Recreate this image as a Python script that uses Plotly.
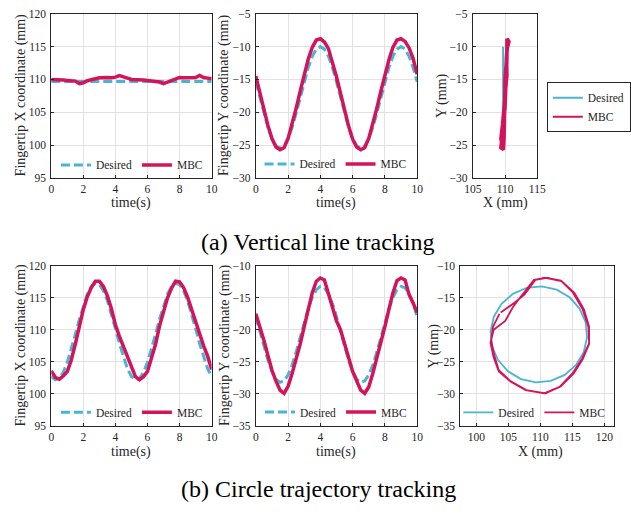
import plotly.graph_objects as go

# ---------------- data ----------------
t = [0, 0.25, 0.5, 0.75, 1.0, 1.25, 1.5, 1.75, 2.0, 2.25, 2.5, 2.75, 3.0, 3.25, 3.5, 3.75,
     4.0, 4.25, 4.5, 4.75, 5.0, 5.25, 5.5, 5.75, 6.0, 6.25, 6.5, 6.75, 7.0, 7.25, 7.5, 7.75,
     8.0, 8.25, 8.5, 8.75, 9.0, 9.25, 9.5, 9.75, 10.0]

# (a) vertical line tracking
line_x_desired = [109.7] * 41
line_x_mbc = [110.0, 110.0, 109.95, 109.9, 109.85, 109.8, 109.75, 109.35, 109.5, 109.8, 110.0,
              110.1, 110.25, 110.3, 110.3, 110.25, 110.35, 110.6, 110.35, 110.2, 110.0, 110.0,
              109.95, 109.9, 109.85, 109.8, 109.7, 109.6, 109.35, 109.6, 109.85, 110.0, 110.3,
              110.25, 110.25, 110.3, 110.3, 110.6, 110.3, 110.2, 110.1]
line_y_desired = [-15.35, -17.75, -20.15, -22.31, -24.02, -25.12, -25.5, -25.12, -24.02, -22.31,
                  -20.15, -17.75, -15.35, -13.19, -11.48, -10.38, -10.0, -10.38, -11.48, -13.19,
                  -15.35, -17.75, -20.15, -22.31, -24.02, -25.12, -25.5, -25.12, -24.02, -22.31,
                  -20.15, -17.75, -15.35, -13.19, -11.48, -10.38, -10.0, -10.38, -11.48, -13.19,
                  -15.35]
line_y_mbc = [-14.5, -17.0, -19.6, -22.0, -24.0, -25.3, -25.7, -25.4, -24.0, -21.9, -19.4, -16.8,
              -14.2, -11.9, -10.1, -9.0, -8.8, -9.3, -10.3, -12.3, -14.6, -17.1, -19.7, -22.1,
              -24.1, -25.3, -25.7, -25.4, -24.0, -21.9, -19.4, -16.8, -14.3, -12.0, -10.1, -9.0,
              -8.8, -9.2, -10.2, -11.8, -14.2]

# (b) circle trajectory tracking
circ_x_desired = [102.73, 102.22, 102.44, 103.38, 104.94, 106.97, 109.28, 111.63, 113.80, 115.57,
                  116.77, 117.28, 117.07, 116.12, 114.56, 112.53, 110.22, 107.87, 105.70, 103.93,
                  102.73, 102.22, 102.44, 103.38, 104.94, 106.97, 109.28, 111.63, 113.80, 115.57,
                  116.77, 117.28, 117.07, 116.12, 114.56, 112.53, 110.22, 107.87, 105.70, 103.93,
                  102.73]
circ_x_mbc = [103.6, 102.6, 102.3, 102.8, 103.5, 105.3, 107.8, 110.8, 113.2, 115.2, 116.6, 117.6,
              117.6, 116.8, 115.3, 113.3, 110.8, 109.0, 107.4, 105.8, 104.5, 102.7, 102.2, 102.7,
              103.5, 105.4, 107.7, 110.6, 113.0, 115.0, 116.5, 117.6, 117.5, 116.6, 115.1, 113.2,
              111.0, 109.2, 107.5, 105.9, 103.8]
circ_y_desired = [-17.94, -20.23, -22.57, -24.72, -26.48, -27.68, -28.19, -27.97, -27.03, -25.48,
                  -23.46, -21.17, -18.83, -16.68, -14.92, -13.73, -13.22, -13.43, -14.37, -15.92,
                  -17.94, -20.23, -22.57, -24.72, -26.48, -27.68, -28.19, -27.97, -27.03, -25.48,
                  -23.46, -21.17, -18.83, -16.68, -14.92, -13.73, -13.22, -13.43, -14.37, -15.92,
                  -17.94]
circ_y_mbc = [-17.5, -19.5, -21.6, -24.0, -26.3, -28.0, -29.4, -29.9, -28.8, -26.8, -24.6, -22.2,
              -19.5, -16.8, -14.2, -12.4, -11.9, -12.2, -14.2, -16.3, -18.6, -20.0, -22.0, -24.3,
              -26.5, -28.1, -29.4, -29.9, -28.9, -26.8, -24.5, -22.1, -19.5, -16.8, -14.2, -12.3,
              -11.9, -12.2, -14.5, -15.8, -17.3]

time_ticks = [0, 2, 4, 6, 8, 10]
x_coord_ticks = [95, 100, 105, 110, 115, 120]
y_line_ticks = [-30, -25, -20, -15, -10, -5]
y_circ_ticks = [-35, -30, -25, -20, -15, -10]
xy_line_xticks = [105, 110, 115]
xy_circ_xticks = [100, 105, 110, 115, 120]

# ---------------- style ----------------
W, H = 631, 515
C_DES = "#4BB4D6"
C_MBC = "#D4145A"
FONT = "Liberation Serif, serif"
INK = "#262626"


def px(a, b):
    return [a / W, b / W]


def py(top, bottom):
    return [1 - bottom / H, 1 - top / H]


fig = go.Figure()


def add(xs, ys, name, color, width, dash, xa, ya, leg, show=True):
    fig.add_trace(go.Scatter(x=xs, y=ys, mode="lines", name=name,
                             line=dict(color=color, width=width, dash=dash),
                             xaxis=xa, yaxis=ya, legend=leg, showlegend=show))


DASH = "9px,4px"
add(t, line_x_desired, "Desired", C_DES, 3, DASH, "x", "y", "legend")
add(t, line_x_mbc, "MBC", C_MBC, 3.5, "solid", "x", "y", "legend")
add(t, line_y_desired, "Desired", C_DES, 3, DASH, "x2", "y2", "legend2")
add(t, line_y_mbc, "MBC", C_MBC, 3.5, "solid", "x2", "y2", "legend2")
add(line_x_desired, line_y_desired, "Desired", C_DES, 2, "solid", "x3", "y3", "legend3")
add(line_x_mbc, line_y_mbc, "MBC", C_MBC, 3.5, "solid", "x3", "y3", "legend3", show=False)
fig.add_trace(go.Scatter(x=[None], y=[None], mode="lines", name="MBC",
                         line=dict(color=C_MBC, width=2), xaxis="x3", yaxis="y3",
                         legend="legend3"))
add(t, circ_x_desired, "Desired", C_DES, 3, DASH, "x4", "y4", "legend4")
add(t, circ_x_mbc, "MBC", C_MBC, 3.5, "solid", "x4", "y4", "legend4")
add(t, circ_y_desired, "Desired", C_DES, 3, DASH, "x5", "y5", "legend5")
add(t, circ_y_mbc, "MBC", C_MBC, 3.5, "solid", "x5", "y5", "legend5")
add(circ_x_desired, circ_y_desired, "Desired", C_DES, 1.8, "solid", "x6", "y6", "legend6")
add(circ_x_mbc, circ_y_mbc, "MBC", C_MBC, 1.8, "solid", "x6", "y6", "legend6")

axis_common = dict(showline=True, mirror=True, linecolor=INK, linewidth=1,
                   ticks="inside", ticklen=3, tickcolor=INK, showgrid=True,
                   gridcolor="#E2E2E2", gridwidth=1, zeroline=False,
                   tickfont=dict(family=FONT, size=11.5, color=INK), fixedrange=True)

panels = [
    # (xdomain px, ydomain px, xrange, yrange, xticks, yticks)
    ((44, 211), (8, 176), [0, 10], [95, 120], time_ticks, x_coord_ticks),
    ((257, 425), (8, 176), [0, 10], [-30, -5], time_ticks, y_line_ticks),
    ((483, 550), (8, 176), [105, 115], [-30, -5], xy_line_xticks, y_line_ticks),
    ((44, 211), (266, 430), [0, 10], [95, 120], time_ticks, x_coord_ticks),
    ((257, 425), (266, 430), [0, 10], [-35, -10], time_ticks, y_circ_ticks),
    ((470, 630), (266, 430), [97.5, 121.5], [-35, -10], xy_circ_xticks, y_circ_ticks),
]

layout = dict(width=W, height=H, margin=dict(l=0, r=0, t=0, b=0),
              paper_bgcolor="white", plot_bgcolor="white",
              font=dict(family=FONT, color=INK))
for i, (xd, yd, xr, yr, xt, yt) in enumerate(panels, start=1):
    sfx = "" if i == 1 else str(i)
    layout["xaxis" + sfx] = dict(axis_common, domain=px(*xd), range=xr, tickvals=xt,
                                 anchor="y" + sfx)
    layout["yaxis" + sfx] = dict(axis_common, domain=py(*yd), range=yr, tickvals=yt,
                                 anchor="x" + sfx, ticklabelstandoff=2)

leg_font = dict(family=FONT, size=11.5, color=INK)
inside_leg = dict(orientation="h", xanchor="center", yanchor="middle",
                  bgcolor="rgba(0,0,0,0)", font=leg_font, itemwidth=30,
                  tracegroupgap=0)
layout["legend"] = dict(inside_leg, x=128 / W, y=1 - 162.7 / H)
layout["legend2"] = dict(inside_leg, x=340 / W, y=1 - 161.7 / H)
layout["legend3"] = dict(x=560 / W, y=1 - 78 / H, xanchor="left", yanchor="top",
                         bgcolor="white", bordercolor=INK, borderwidth=1,
                         font=leg_font, itemwidth=30, tracegroupgap=0)
layout["legend4"] = dict(inside_leg, x=128 / W, y=1 - 416 / H)
layout["legend5"] = dict(inside_leg, x=340.5 / W, y=1 - 415.7 / H)
layout["legend6"] = dict(inside_leg, x=547 / W, y=1 - 416 / H)

title_font = dict(family=FONT, size=14, color=INK)
ann = []


def ytitle(text, xp, yc):
    ann.append(dict(text=text, x=xp / W, y=1 - yc / H, xref="paper", yref="paper",
                    showarrow=False, textangle=-90, font=title_font,
                    xanchor="center", yanchor="middle"))


def xtitle(text, xc, yc):
    ann.append(dict(text=text, x=xc / W, y=1 - yc / H, xref="paper", yref="paper",
                    showarrow=False, font=title_font, xanchor="center", yanchor="middle"))


ytitle("Fingertip X coordinate (mm)", 12, 92)
ytitle("Fingertip Y coordinate (mm)", 224, 92)
ytitle("Y (mm)", 451, 92)
ytitle("Fingertip X coordinate (mm)", 12, 348)
ytitle("Fingertip Y coordinate (mm)", 225, 348)
ytitle("Y (mm)", 442, 348)
xtitle("time(s)", 127.5, 201.5)
xtitle("time(s)", 341, 201.5)
xtitle("X (mm)", 516.7, 201.5)
xtitle("time(s)", 127.5, 456.5)
xtitle("time(s)", 341, 456.5)
xtitle("X (mm)", 553, 456.5)

cap_font = dict(family=FONT, size=24, color="black")
ann.append(dict(text="(a) Vertical line tracking", x=321 / W, y=1 - 242 / H,
                xref="paper", yref="paper", showarrow=False, font=cap_font,
                xanchor="center", yanchor="middle"))
ann.append(dict(text="(b) Circle trajectory tracking", x=322 / W, y=1 - 495 / H,
                xref="paper", yref="paper", showarrow=False, font=cap_font,
                xanchor="center", yanchor="middle"))
layout["annotations"] = ann

fig.update_layout(**layout)
fig.write_html("out.html")
